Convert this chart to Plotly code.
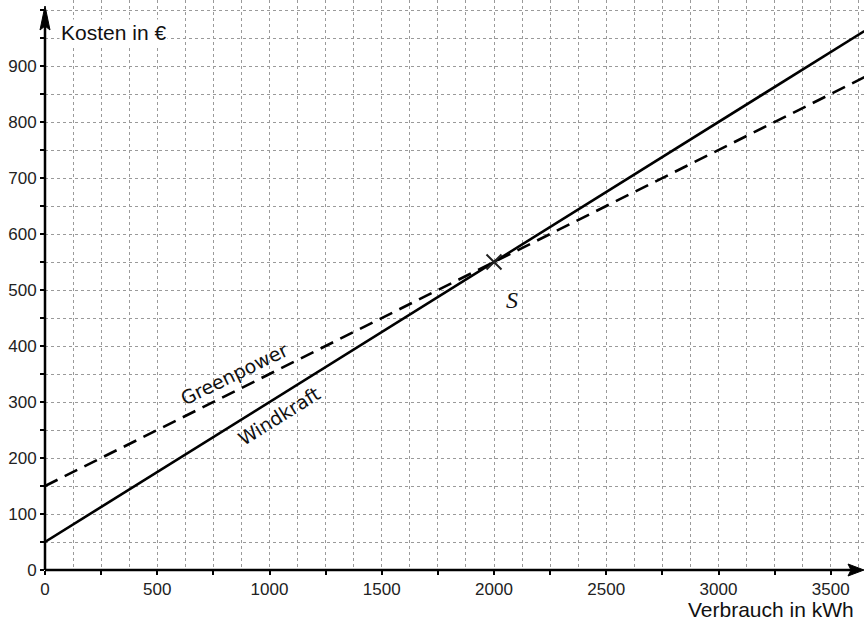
import plotly.graph_objects as go

# --- data ---
verbrauch_pts = [0, 2000, 3650]
windkraft_kosten = [50, 550, 962.5]
greenpower_kosten = [150, 550, 880]
schnitt_x = [2000]
schnitt_y = [550]

x_tickvals = list(range(0, 3750, 250))
x_ticktext = [str(v) if v % 500 == 0 else "" for v in x_tickvals]
y_tickvals = list(range(0, 1050, 50))
y_ticktext = [str(v) if (v % 100 == 0 and v < 1000) else "" for v in y_tickvals]

# --- layout geometry ---
W, H = 864, 623
ML, MR, MT, MB = 45, 0, 0, 53
PW, PH = W - ML - MR, H - MT - MB
XMAX = PW / 224.5 * 1000
YMAX = PH / 56.0 * 100
fx = 1.0 / PW   # paper units per pixel
fy = 1.0 / PH

fig = go.Figure()

fig.add_trace(go.Scatter(x=verbrauch_pts, y=greenpower_kosten, mode="lines",
                         line=dict(color="black", width=2.6, dash="14px,8px"),
                         showlegend=False, hoverinfo="skip"))
fig.add_trace(go.Scatter(x=verbrauch_pts, y=windkraft_kosten, mode="lines",
                         line=dict(color="black", width=2.6),
                         showlegend=False, hoverinfo="skip"))
fig.add_trace(go.Scatter(x=schnitt_x, y=schnitt_y, mode="markers",
                         marker=dict(symbol="x-thin", size=15, line=dict(color="#222", width=2)),
                         showlegend=False, hoverinfo="skip"))

GRIDC = "#9a9a9a"
grid = dict(gridcolor=GRIDC, griddash="dot", gridwidth=1)

fig.update_xaxes(range=[0, XMAX], tickmode="array", tickvals=x_tickvals, ticktext=x_ticktext,
                 showgrid=True, **grid, zeroline=False, showline=False, automargin=False,
                 ticks="outside", ticklen=4, tickwidth=2, tickcolor="black",
                 minor=dict(dtick=125, tick0=0, showgrid=True, gridcolor=GRIDC, griddash="dot", ticks=""),
                 tickfont=dict(family="Liberation Sans, Arial", size=17, color="#222"))
fig.update_yaxes(range=[0, YMAX], tickmode="array", tickvals=y_tickvals, ticktext=y_ticktext,
                 showgrid=True, **grid, zeroline=False, showline=False, automargin=False,
                 ticks="outside", ticklen=4, tickwidth=2, tickcolor="black",
                 tickfont=dict(family="Liberation Sans, Arial", size=17, color="#222"))

# axis lines with arrow heads (paper coordinates, not clipped)
y_tip = 1 - 6 * fy
x_tip = 1.0
fig.add_shape(type="line", xref="paper", yref="paper", x0=0, y0=0, x1=0, y1=y_tip - 10 * fy,
              line=dict(color="black", width=2.5))
fig.add_shape(type="line", xref="paper", yref="paper", x0=0, y0=0, x1=x_tip - 10 * fx, y1=0,
              line=dict(color="black", width=2.5))
fig.add_shape(type="path", xref="paper", yref="paper",
              path=f"M {-5*fx},{y_tip-24*fy} L 0,{y_tip} L {5*fx},{y_tip-24*fy} L 0,{y_tip-20*fy} Z",
              fillcolor="black", line=dict(color="black", width=1))
fig.add_shape(type="path", xref="paper", yref="paper",
              path=f"M {x_tip-16*fx},{-6*fy} L {x_tip},0 L {x_tip-16*fx},{6*fy} L {x_tip-13*fx},0 Z",
              fillcolor="black", line=dict(color="black", width=1))

# texts
fig.add_annotation(x=0, y=960, xref="x", yref="y", text="Kosten in €", showarrow=False,
                   xanchor="left", yanchor="middle", xshift=14, bgcolor="white",
                   font=dict(family="Liberation Sans, Arial", size=21, color="#111"))
fig.add_annotation(x=1, y=0, xref="paper", yref="paper", text="Verbrauch in kWh", showarrow=False,
                   xanchor="right", yanchor="middle", xshift=-8, yshift=-39,
                   font=dict(family="Liberation Sans, Arial", size=21, color="#111"))
fig.add_annotation(x=842, y=350, text="Greenpower", showarrow=False, textangle=-26,
                   font=dict(family="DejaVu Sans", size=19, color="#111"))
fig.add_annotation(x=1042, y=275, text="Windkraft", showarrow=False, textangle=-32,
                   font=dict(family="DejaVu Sans", size=19, color="#111"))
fig.add_annotation(x=2080, y=482, text="<i>S</i>", showarrow=False,
                   font=dict(family="Liberation Serif, Times New Roman", size=24, color="#111"))

fig.update_layout(width=W, height=H, margin=dict(l=ML, r=MR, t=MT, b=MB),
                  plot_bgcolor="white", paper_bgcolor="white", showlegend=False)

fig.write_html("out.html", config={"displayModeBar": False},
               post_script="document.body.style.margin='0';document.body.style.overflow='hidden';")
